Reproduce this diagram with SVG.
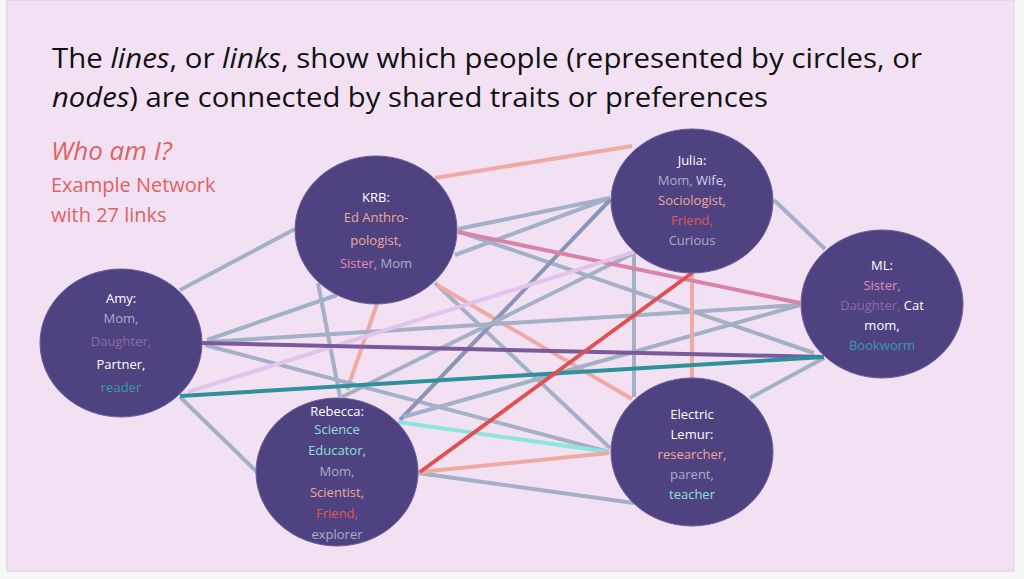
<svg xmlns="http://www.w3.org/2000/svg" width="1024" height="579" viewBox="0 0 1024 579">
<style>
.t{font-family:"Open Sans","Liberation Sans",sans-serif}
.n{fill:#4f4280;stroke:#6a5c98;stroke-width:1}
.lb{font-family:"Open Sans","Liberation Sans",sans-serif;font-size:13px;text-anchor:middle}
.w{fill:#ffffff}.g{fill:#a9aeca}.p{fill:#8a6aa8}.tl{fill:#3a9aa6}.s{fill:#f0a898}.pk{fill:#e08cb8}.lt{fill:#8de0d8}.r{fill:#e05555}
#links line{stroke-width:4;stroke-linecap:butt}
.eg{stroke:#a3b0c6}.es{stroke:#f0aaa4}.ed{stroke:#8d94b5}
</style>
<rect x="0" y="0" width="1024" height="579" fill="#f7f7f8"/>
<rect x="7" y="0" width="1007" height="571" fill="#f2e1f3" stroke="#d8d0d8"/>
<g id="title" class="t" font-size="27" fill="#111">
<text x="52" y="68" textLength="870" lengthAdjust="spacingAndGlyphs">The <tspan font-style="italic">lines</tspan>, or <tspan font-style="italic">links</tspan>, show which people (represented by circles, or</text>
<text x="52" y="107" textLength="716" lengthAdjust="spacingAndGlyphs"><tspan font-style="italic">nodes</tspan>) are connected by shared traits or preferences</text>
</g>
<g id="subtitle" class="t" fill="#e06262">
<text x="51" y="160" font-size="26" font-style="italic">Who am I?</text>
<text x="51" y="192" font-size="20">Example Network</text>
<text x="51" y="222" font-size="20">with 27 links</text>
</g>
<g id="links">
<line class="es" x1="435" y1="178" x2="632" y2="146"/>
<line class="eg" x1="180" y1="290" x2="295" y2="229"/>
<line class="eg" x1="458" y1="229" x2="610" y2="198"/>
<line class="eg" x1="455" y1="255" x2="610" y2="198"/>
<line class="eg" x1="460" y1="232" x2="814" y2="353"/>
<line class="eg" x1="318" y1="283" x2="340" y2="397"/>
<line class="es" x1="377" y1="304" x2="347" y2="390"/>
<line class="eg" x1="435" y1="283" x2="610" y2="448"/>
<line class="es" x1="437" y1="285" x2="632" y2="399"/>
<line class="eg" x1="207" y1="340" x2="337" y2="295"/>
<line class="eg" x1="207" y1="342" x2="800" y2="305"/>
<line class="eg" x1="205" y1="345" x2="609" y2="452"/>
<line class="eg" x1="180" y1="397" x2="257" y2="472"/>
<line class="ed" x1="400" y1="420" x2="610" y2="200"/>
<line class="eg" x1="342" y1="397" x2="634" y2="253"/>
<line class="eg" x1="403" y1="417" x2="800" y2="305"/>
<line class="eg" x1="418" y1="473" x2="634" y2="503"/>
<line class="eg" x1="634" y1="253" x2="634" y2="397"/>
<line class="es" x1="692" y1="273" x2="692" y2="378"/>
<line class="eg" x1="774" y1="200" x2="825" y2="249"/>
<line class="eg" x1="750" y1="398" x2="824" y2="358"/>
<line stroke="#d883a8" x1="458" y1="232" x2="800" y2="303"/>
<line stroke="#e2c3ec" x1="188" y1="392" x2="634" y2="252"/>
<line stroke="#7b5a9c" x1="202" y1="343" x2="824" y2="357"/>
<line stroke="#2f8f9a" x1="180" y1="396" x2="824" y2="357"/>
<line stroke="#8de6d8" x1="398" y1="422" x2="609" y2="452"/>
<line class="es" x1="420" y1="472" x2="609" y2="453"/>
<line stroke="#e05050" x1="420" y1="472" x2="692" y2="273"/>
</g>
<g id="amy"><ellipse class="n" cx="121" cy="343" rx="81" ry="74"/>
<text class="lb" x="121"><tspan class="w" x="121" y="303">Amy:</tspan><tspan class="g" x="121" y="323">Mom,</tspan><tspan class="p" x="121" y="346">Daughter,</tspan><tspan class="w" x="121" y="369">Partner,</tspan><tspan class="tl" x="121" y="392">reader</tspan></text></g>
<g id="krb"><ellipse class="n" cx="376" cy="230" rx="81" ry="74"/>
<text class="lb"><tspan class="w" x="376" y="202">KRB:</tspan><tspan class="s" x="376" y="222">Ed Anthro-</tspan><tspan class="s" x="376" y="245">pologist,</tspan><tspan x="376" y="268"><tspan class="pk">Sister,</tspan><tspan class="g"> Mom</tspan></tspan></text></g>
<g id="rebecca"><ellipse class="n" cx="337" cy="472" rx="81" ry="74"/>
<text class="lb"><tspan class="w" x="337" y="416">Rebecca:</tspan><tspan class="lt" x="337" y="434">Science</tspan><tspan class="lt" x="337" y="455">Educator,</tspan><tspan class="g" x="337" y="476">Mom,</tspan><tspan class="s" x="337" y="497">Scientist,</tspan><tspan class="r" x="337" y="518">Friend,</tspan><tspan class="g" x="337" y="539">explorer</tspan></text></g>
<g id="julia"><ellipse class="n" cx="692" cy="201" rx="81" ry="72"/>
<text class="lb"><tspan class="w" x="692" y="165">Julia:</tspan><tspan x="692" y="185"><tspan class="g">Mom, </tspan><tspan fill="#d8d0ec">Wife,</tspan></tspan><tspan class="s" x="692" y="205">Sociologist,</tspan><tspan class="r" x="692" y="225">Friend,</tspan><tspan class="g" x="692" y="245">Curious</tspan></text></g>
<g id="ml"><ellipse class="n" cx="882" cy="304" rx="81" ry="74"/>
<text class="lb"><tspan class="w" x="882" y="270">ML:</tspan><tspan class="pk" x="882" y="290">Sister,</tspan><tspan x="882" y="310"><tspan class="p">Daughter,</tspan><tspan class="w"> Cat</tspan></tspan><tspan class="w" x="882" y="330">mom,</tspan><tspan class="tl" x="882" y="350">Bookworm</tspan></text></g>
<g id="lemur"><ellipse class="n" cx="692" cy="452" rx="81" ry="74"/>
<text class="lb"><tspan class="w" x="692" y="419">Electric</tspan><tspan class="w" x="692" y="439">Lemur:</tspan><tspan class="s" x="692" y="459">researcher,</tspan><tspan class="g" x="692" y="479">parent,</tspan><tspan class="lt" x="692" y="499">teacher</tspan></text></g>
</svg>
